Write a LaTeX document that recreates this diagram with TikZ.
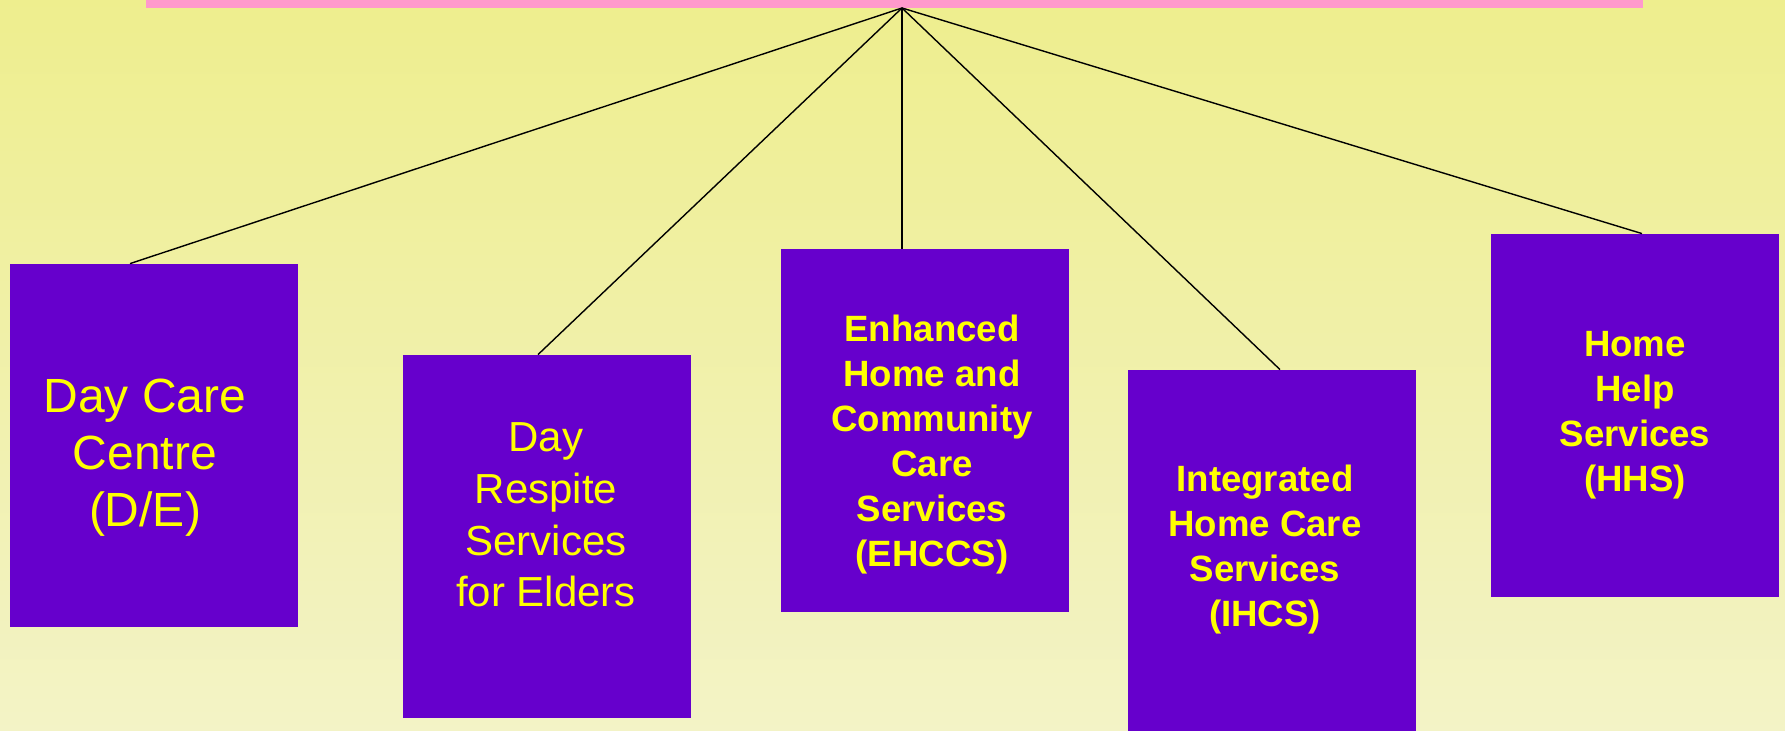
\documentclass[tikz,border=0pt]{standalone}
\usepackage{fontspec}
\setmainfont{Liberation Sans}
\usetikzlibrary{positioning}
\definecolor{bgtop}{RGB}{238,238,142}
\definecolor{bgbottom}{RGB}{243,243,198}
\definecolor{barpink}{RGB}{255,153,204}
\definecolor{boxpurple}{RGB}{102,0,204}
\definecolor{textyellow}{RGB}{255,255,0}
\tikzset{
  service/.style={rectangle, fill=boxpurple, minimum width=144pt, minimum height=181.5pt, inner sep=0pt},
  biglabel/.style={text=textyellow, align=center, inner sep=0pt, font=\fontsize{24}{28.5}\selectfont},
  midlabel/.style={text=textyellow, align=center, inner sep=0pt, font=\fontsize{21}{25.8}\selectfont},
  boldlabel/.style={text=textyellow, align=center, inner sep=0pt, font=\fontsize{18.3}{22.5}\selectfont\bfseries},
  link/.style={draw=black, line width=0.7pt}
}
\begin{document}
\begin{tikzpicture}[x=0.5pt, y=-0.5pt]
            \clip (0,0) rectangle (1785,731);
            \shade [top color=bgtop, bottom color=bgbottom] (0,0) rectangle (1785,731);
            \node [rectangle, fill=barpink, minimum width=748.5pt, minimum height=4pt, inner sep=0pt, anchor=north west] (bar) at (146,0) {};
            \coordinate (hub) at (902,8);

            \node [service] (box1) at (154,445.5) {};
            \node [service] (box2) at (546.5,536.5) {};
            \node [service] (box3) at (924.5,430.5) {};
            \node [service] (box4) at (1271.5,551.5) {};
            \node [service] (box5) at (1634.5,415.5) {};

            \node [biglabel] (text1) at (145,458) {Day Care\\Centre\\(D/E)};
            \node [midlabel] (text2) at (546,515) {Day\\Respite\\Services\\for Elders};
            \node [boldlabel] (text3) at (932,445) {Enhanced\\Home and\\Community\\Care\\Services\\(EHCCS)};
            \node [boldlabel] (text4) at (1265,550) {Integrated\\Home Care\\Services\\(IHCS)};
            \node [boldlabel] (text5) at (1635,415) {Home\\Help\\Services\\(HHS)};

            \draw [link] (hub) -- ([xshift=-12pt]box1.north);
            \draw [link] (hub) -- ([xshift=-4.25pt]box2.north);
            \draw [link] (hub) -- ([xshift=-11.25pt]box3.north);
            \draw [link] (hub) -- ([xshift=4.25pt]box4.north);
            \draw [link] (hub) -- ([xshift=3.75pt]box5.north);
          \end{tikzpicture}
\end{document}
